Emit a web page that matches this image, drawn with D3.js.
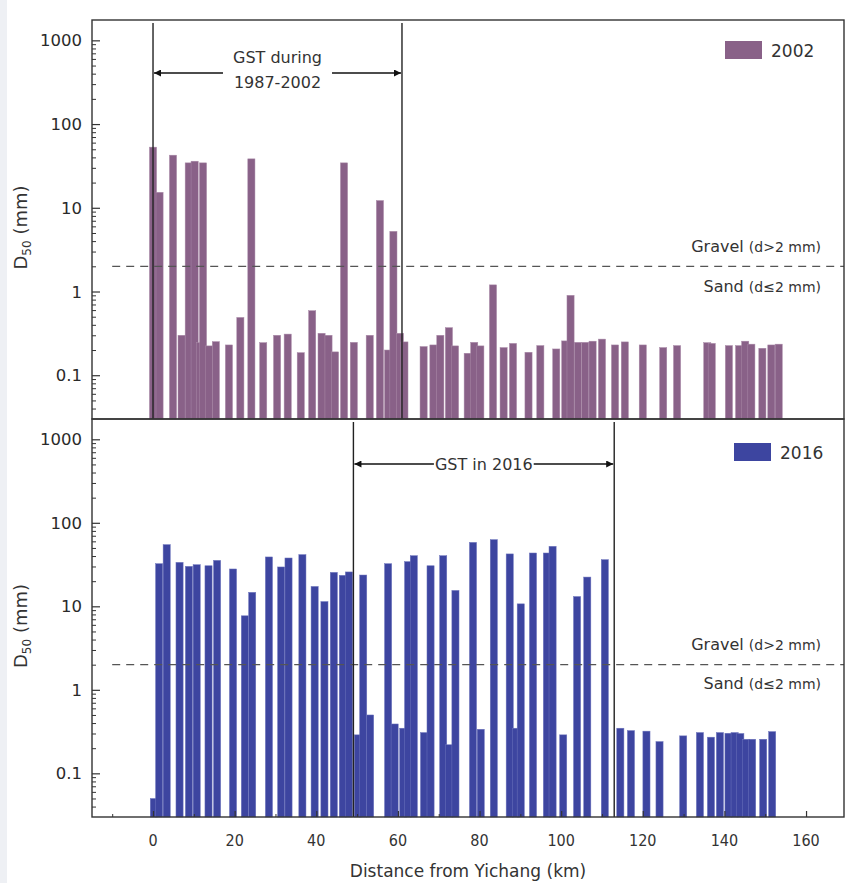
<!DOCTYPE html>
<html>
<head>
<meta charset="utf-8">
<script src="https://cdn.jsdelivr.net/npm/d3@7"></script>
<style>
  body { margin: 0; background: #fff; }
  svg { display: block; font-family: "DejaVu Sans", Verdana, sans-serif; }
</style>
</head>
<body>
<svg id="chart" width="851" height="883"></svg>
<script>
// distances (km) and D50 (mm)
const dist2002 = [0, 1.6, 4.9, 7.0, 8.75, 10.2, 11.5, 12.25, 13.7, 15.4,
  18.6, 21.4, 24.1, 27, 30.4, 33, 36.2, 39, 41.3, 43,
  44.6, 46.8, 49.2, 53.1, 55.6, 57.6, 58.9, 60.5, 61.6, 66.3,
  68.7, 70.4, 72.5, 74, 77.1, 78.7, 80.2, 83.3, 85.9, 88.2,
  92, 94.9, 98.8, 101, 102.3, 104.1, 105.9, 107.7, 110, 113.2,
  115.6, 120, 125, 128.4, 135.8, 136.9, 141.1, 143.6, 145.1, 146.6,
  149.3, 151.5, 153.3];
const d50_2002 = [53, 15.3, 42.5, 0.30, 34.4, 36, 0.245, 34.4, 0.224, 0.252,
  0.23, 0.49, 38.4, 0.245, 0.30, 0.31, 0.186, 0.59, 0.317, 0.30,
  0.19, 34.4, 0.247, 0.30, 12.2, 0.20, 5.23, 0.317, 0.25, 0.22,
  0.23, 0.30, 0.37, 0.224, 0.183, 0.247, 0.224, 1.2, 0.214, 0.24,
  0.188, 0.226, 0.206, 0.257, 0.9, 0.247, 0.247, 0.255, 0.27, 0.23,
  0.25, 0.23, 0.214, 0.226, 0.245, 0.24, 0.226, 0.226, 0.255, 0.235,
  0.21, 0.23, 0.235];

const dist2016 = [0.2, 1.5, 3.35, 6.5, 8.8, 10.7, 13.6, 15.7, 19.6, 22.5,
  24.3, 28.4, 31.4, 33.2, 36.6, 39.6, 42, 44.3, 46.5, 48,
  50.2, 51.5, 53.2, 57.6, 59.2, 61.3, 62.5, 63.9, 66.4, 68,
  71.1, 72.6, 74.1, 78.4, 80.3, 83.5, 87.4, 88.9, 90.1, 93.1,
  96.5, 97.9, 100.5, 103.9, 106.4, 110.7, 114.5, 117.1, 120.9, 124.1,
  129.9, 134, 136.7, 138.9, 141, 142.5, 143.9, 145.3, 146.8, 149.5,
  151.7];
const d50_2016 = [0.05, 32.4, 54.8, 33.6, 30.1, 31.5, 30.6, 35.5, 28, 7.7,
  14.7, 39, 29.6, 37.9, 41.6, 17.3, 11.4, 25.5, 23.5, 25.8,
  0.289, 23.7, 0.50, 32.4, 0.39, 0.347, 34.3, 40.4, 0.308, 30.6,
  40.4, 0.22, 15.5, 58.3, 0.337, 62.9, 42.4, 0.347, 10.7, 43.5,
  43.5, 52.3, 0.289, 13.1, 22.4, 36.2, 0.347, 0.325, 0.32, 0.24,
  0.281, 0.308, 0.271, 0.308, 0.302, 0.308, 0.30, 0.256, 0.256, 0.256,
  0.316];

const yTicks = [0.1, 1, 10, 100, 1000];
const xTicks = [0, 20, 40, 60, 80, 100, 120, 140, 160];
const gst2002 = [0, 61];
const gst2016 = [49.1, 113];
const threshold = 2; // gravel / sand boundary (mm)

const svg = d3.select('#chart');
svg.append('rect').attr('width', 7).attr('height', 883).attr('fill', '#eef0f4');

const left = 92, right = 844;
const x = d3.scaleLinear().domain([-14.95, 169.3]).range([left, right]);
const barW = 1.75; // km

const panels = [
  { top: 20, bottom: 419, dist: dist2002, vals: d50_2002, color: '#896188', edge: '#a98aa8', year: '2002',
    gst: gst2002, arrowY: 73, label: ['GST during', '1987-2002'],
    gravelY: 252, sandY: 292, legendY: 41 },
  { top: 419, bottom: 817, dist: dist2016, vals: d50_2016, color: '#3d45a0', edge: '#6f76bd', year: '2016',
    gst: gst2016, arrowY: 464, label: ['GST in 2016'],
    gravelY: 650, sandY: 689, legendY: 443 }
];

const defs = svg.append('defs');
defs.append('marker')
  .attr('id', 'arrow')
  .attr('viewBox', '0 0 10 10')
  .attr('refX', 10).attr('refY', 5)
  .attr('markerWidth', 11).attr('markerHeight', 7)
  .attr('markerUnits', 'userSpaceOnUse')
  .attr('orient', 'auto')
  .append('path').attr('d', 'M0,0 L10,5 L0,10 z').attr('fill', '#111');

panels.forEach((p, i) => {
  const y = d3.scaleLog().domain([0.03, 1750]).range([p.bottom, p.top]);
  const g = svg.append('g');

  // bars
  g.selectAll('rect.bar')
    .data(p.dist.map((d, k) => ({ d, v: p.vals[k] })))
    .join('rect')
    .attr('class', 'bar')
    .attr('x', e => x(e.d - barW / 2))
    .attr('width', x(barW) - x(0))
    .attr('y', e => y(e.v))
    .attr('height', e => p.bottom - y(e.v))
    .attr('fill', p.color)
    .attr('stroke', p.edge).attr('stroke-width', 0.5);

  // gravel/sand dashed line
  g.append('line')
    .attr('x1', x(-10)).attr('x2', right)
    .attr('y1', y(threshold)).attr('y2', y(threshold))
    .attr('stroke', '#555').attr('stroke-width', 1.3)
    .attr('stroke-dasharray', '8,6');

  const gt = g.append('text').attr('x', 821).attr('y', p.gravelY)
    .attr('text-anchor', 'end').attr('fill', '#333');
  gt.append('tspan').attr('font-size', 16).text('Gravel ');
  gt.append('tspan').attr('font-size', 14).text('(d>2 mm)');
  const st = g.append('text').attr('x', 821).attr('y', p.sandY)
    .attr('text-anchor', 'end').attr('fill', '#333');
  st.append('tspan').attr('font-size', 16).text('Sand  ');
  st.append('tspan').attr('font-size', 14).text(' (d≤2 mm)');

  // GST bounds
  p.gst.forEach(k => {
    g.append('line')
      .attr('x1', x(k)).attr('x2', x(k))
      .attr('y1', p.top + 3).attr('y2', p.bottom)
      .attr('stroke', '#222').attr('stroke-width', 1.4);
  });
  const cx = (x(p.gst[0]) + x(p.gst[1])) / 2;
  const lab = g.append('text').attr('text-anchor', 'middle').attr('font-size', 16).attr('fill', '#333');
  if (p.label.length === 2) {
    lab.append('tspan').attr('x', cx).attr('y', p.arrowY - 10).text(p.label[0]);
    lab.append('tspan').attr('x', cx).attr('y', p.arrowY + 15).text(p.label[1]);
  } else {
    lab.append('tspan').attr('x', cx).attr('y', p.arrowY + 6).text(p.label[0]);
  }
  const half = lab.node().getBBox().width / 2 + (p.label.length === 2 ? 10 : 1);
  g.append('line')
    .attr('x1', cx - half).attr('x2', x(p.gst[0]) + 1)
    .attr('y1', p.arrowY).attr('y2', p.arrowY)
    .attr('stroke', '#111').attr('stroke-width', 1.3)
    .attr('marker-end', 'url(#arrow)');
  g.append('line')
    .attr('x1', cx + half).attr('x2', x(p.gst[1]) - 1)
    .attr('y1', p.arrowY).attr('y2', p.arrowY)
    .attr('stroke', '#111').attr('stroke-width', 1.3)
    .attr('marker-end', 'url(#arrow)');

  // legend
  g.append('rect').attr('x', i === 0 ? 725 : 734).attr('y', p.legendY)
    .attr('width', 37).attr('height', 18).attr('fill', p.color);
  g.append('text').attr('x', i === 0 ? 771 : 780).attr('y', p.legendY + 16)
    .attr('font-size', 17).attr('fill', '#333').text(p.year);

  // y axis (ticks inward)
  const yAxis = d3.axisRight(y).tickValues(yTicks).tickSize(8).tickFormat('');
  g.append('g').attr('transform', `translate(${left},0)`).call(yAxis)
    .call(s => s.select('.domain').remove())
    .call(s => s.selectAll('line').attr('stroke', '#333').attr('stroke-width', 1.2));
  const minor = [];
  [0.01, 0.1, 1, 10, 100, 1000].forEach(dec => {
    for (let m = 2; m <= 9; m++) {
      const v = dec * m;
      if (v > 0.03 && v < 1750) minor.push(v);
    }
  });
  g.append('g').attr('transform', `translate(${left},0)`)
    .call(d3.axisRight(y).tickValues(minor).tickSize(4).tickFormat(''))
    .call(s => s.select('.domain').remove())
    .call(s => s.selectAll('line').attr('stroke', '#333'));
  g.selectAll('text.ytick').data(yTicks).join('text')
    .attr('class', 'ytick')
    .attr('x', 82).attr('y', d => y(d) + 6)
    .attr('text-anchor', 'end').attr('font-size', 16.5).attr('fill', '#2a2a2a')
    .text(d => d3.format('~g')(d));

  // y label
  const yl = g.append('text')
    .attr('transform', `translate(27,${(p.top + p.bottom) / 2 + 8}) rotate(-90)`)
    .attr('text-anchor', 'middle').attr('font-size', 18).attr('fill', '#333');
  yl.append('tspan').text('D');
  yl.append('tspan').attr('font-size', 12).attr('dy', 4).text('50');
  yl.append('tspan').attr('dy', -4).text(' (mm)');

  // frame
  g.append('rect').attr('x', left).attr('y', p.top)
    .attr('width', right - left).attr('height', p.bottom - p.top)
    .attr('fill', 'none').attr('stroke', '#333').attr('stroke-width', 1.4);
});

// x axis on bottom panel (ticks inward)
const xb = 817;
svg.append('g').attr('transform', `translate(0,${xb})`)
  .call(d3.axisTop(x).tickValues(xTicks).tickSize(6).tickFormat(''))
  .call(s => s.select('.domain').remove())
  .call(s => s.selectAll('line').attr('stroke', '#333').attr('stroke-width', 1.2));
svg.append('g').attr('transform', `translate(0,${xb})`)
  .call(d3.axisTop(x).tickValues([-10, 10, 30, 50, 70, 90, 110, 130, 150]).tickSize(3).tickFormat(''))
  .call(s => s.select('.domain').remove())
  .call(s => s.selectAll('line').attr('stroke', '#333'));
svg.selectAll('text.xtick').data(xTicks).join('text')
  .attr('class', 'xtick')
  .attr('x', d => x(d)).attr('y', 846)
  .attr('text-anchor', 'middle').attr('font-size', 16).attr('fill', '#333')
  .attr('font-family', '"DejaVu Sans Condensed", "DejaVu Sans", sans-serif')
  .text(d => d);
svg.append('text').attr('x', 468).attr('y', 877)
  .attr('text-anchor', 'middle').attr('font-size', 17).attr('fill', '#333')
  .text('Distance from Yichang (km)');
</script>
</body>
</html>
